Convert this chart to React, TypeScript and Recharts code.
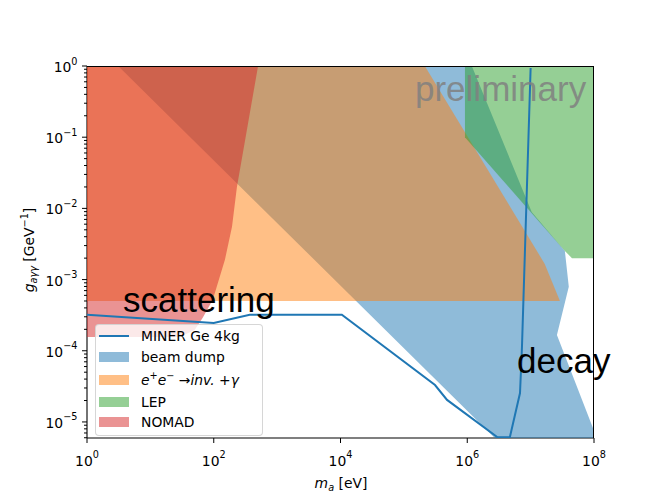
import React from 'react'
import { ScatterChart, Scatter, XAxis, YAxis } from 'recharts'

const FONT = '"DejaVu Sans", sans-serif'
const BIG_FONT = '"Liberation Sans", Arial, sans-serif'

const BLUE = '#1f77b4'
const ORANGE = '#ff7f0e'
const GREEN = '#2ca02c'
const RED = '#d62728'

type Pt = { x: number; y: number }

// axis ranges + ticks
const X_DOMAIN = [1, 1e8]
const Y_DOMAIN = [5.95e-6, 1]
const X_TICKS = [1, 1e2, 1e4, 1e6, 1e8]
const Y_MAJOR = [1e-5, 1e-4, 1e-3, 1e-2, 1e-1, 1]
const Y_MINOR = [6e-6, 7e-6, 8e-6, 9e-6].concat(
  Y_MAJOR.slice(0, -1).flatMap(d => [2, 3, 4, 5, 6, 7, 8, 9].map(m => m * d))
)
const Y_TICKS = [...Y_MINOR, ...Y_MAJOR].sort((a, b) => a - b)

// excluded regions (polygon outlines in m_a [eV], g [GeV^-1])
const BEAM_DUMP: Pt[] = [
  { x: 3.1, y: 1 },
  { x: 1.18e6, y: 1 },
  { x: 1.04e7, y: 8.9e-3 },
  { x: 3.47e7, y: 2.52e-3 },
  { x: 4.0e7, y: 7.9e-4 },
  { x: 2.6e7, y: 1.67e-4 },
  { x: 1e8, y: 7.5e-6 },
  { x: 1e8, y: 5.95e-6 },
  { x: 2.72e6, y: 5.95e-6 },
]

const EE_INV: Pt[] = [
  { x: 1, y: 1 },
  { x: 2.14e5, y: 1 },
  { x: 1.67e7, y: 1.66e-3 },
  { x: 2.9e7, y: 5e-4 },
  { x: 1, y: 5e-4 },
]

const LEP: Pt[] = [
  { x: 9.2e5, y: 1 },
  { x: 1e8, y: 1 },
  { x: 1e8, y: 2.0e-3 },
  { x: 4.5e7, y: 2.0e-3 },
  { x: 3.47e7, y: 2.52e-3 },
  { x: 9.2e5, y: 0.1 },
]

const NOMAD: Pt[] = [
  { x: 1, y: 1 },
  { x: 500, y: 1 },
  { x: 232, y: 0.02 },
  { x: 194, y: 5.5e-3 },
  { x: 150, y: 1.9e-3 },
  { x: 104, y: 6.5e-4 },
  { x: 94, y: 5e-4 },
  { x: 67, y: 2.9e-4 },
  { x: 50, y: 1.96e-4 },
  { x: 29, y: 1.56e-4 },
  { x: 1, y: 1.56e-4 },
]

// projected sensitivity
const MINER: Pt[] = [
  { x: 1, y: 3.2e-4 },
  { x: 100, y: 2.46e-4 },
  { x: 370, y: 3.2e-4 },
  { x: 1.05e4, y: 3.2e-4 },
  { x: 3.1e5, y: 3.3e-5 },
  { x: 4.8e5, y: 2.04e-5 },
  { x: 3.0e6, y: 6.1e-6 },
  { x: 4.7e6, y: 6.1e-6 },
  { x: 6.8e6, y: 2.55e-5 },
  { x: 7.3e6, y: 1.13e-4 },
  { x: 1.0e7, y: 0.94 },
]

const FILLS = [
  { name: 'beam dump', data: BEAM_DUMP, color: BLUE },
  { name: 'ee', data: EE_INV, color: ORANGE },
  { name: 'LEP', data: LEP, color: GREEN },
  { name: 'NOMAD', data: NOMAD, color: RED },
]

const LEGEND_ROWS = [335.5, 357, 379.5, 401.5, 422]

const NoDot = () => <g />

const polygonLine = (color: string) => (props: any) => (
  <polygon
    points={(props.points || []).map((p: any) => `${p.x},${p.y}`).join(' ')}
    fill={color}
    fillOpacity={0.5}
    stroke="none"
  />
)

const expText = (v: number) => {
  const e = Math.round(Math.log10(v))
  return e < 0 ? `\u2212${-e}` : String(e)
}

function XTick({ x, y, payload }: any) {
  return (
    <text x={x} y={y + 23} textAnchor="middle" fontFamily={FONT} fontSize={13.9} fill="#000">
      <tspan>10</tspan>
      <tspan dy={-8} fontSize={9.7}>{expText(payload.value)}</tspan>
    </text>
  )
}

function YTick({ x, y, payload }: any) {
  const axisX = x + 9
  const major = Y_MAJOR.includes(payload.value)
  return (
    <g>
      <line x1={axisX} x2={axisX - (major ? 5 : 3)} y1={y} y2={y} stroke="#000" strokeWidth={1} />
      {major && (
        <text x={axisX - 9.5} y={y + 6} textAnchor="end" fontFamily={FONT} fontSize={13.9} fill="#000">
          <tspan>10</tspan>
          <tspan dy={-7.5} fontSize={9.7}>{expText(payload.value)}</tspan>
        </text>
      )}
    </g>
  )
}

function LegendBox() {
  const sup = (s: string) => <span style={{ fontSize: 9.7, position: 'relative', top: -6 }}>{s}</span>
  const labels = [
    'MINER Ge 4kg',
    'beam dump',
    <span><i>e</i>{sup('+')}<i>e</i>{sup('\u2212')} {'\u2192'}<i>inv.</i> +<i>{'\u03b3'}</i></span>,
    'LEP',
    'NOMAD',
  ]
  const colors = [BLUE, BLUE, ORANGE, GREEN, RED]
  return (
    <div style={{
      position: 'absolute', left: 95, top: 324, width: 168, height: 112, boxSizing: 'border-box',
      background: 'rgba(255,255,255,0.8)', border: '1px solid rgba(204,204,204,0.8)', borderRadius: 4,
      fontFamily: FONT, fontSize: 13.9, color: '#000',
    }}>
      {LEGEND_ROWS.map((c, i) => (
        <React.Fragment key={i}>
          {i === 0
            ? <div style={{ position: 'absolute', left: 3, top: c - 325 - 1, width: 30, height: 2, background: BLUE }} />
            : <div style={{ position: 'absolute', left: 3, top: c - 325 - 5, width: 30, height: 10, background: colors[i], opacity: 0.5 }} />}
          <div style={{ position: 'absolute', left: 45, top: c - 325 - 9, height: 18, lineHeight: '18px', whiteSpace: 'nowrap' }}>
            {labels[i]}
          </div>
        </React.Fragment>
      ))}
    </div>
  )
}

export default function App() {
  return (
    <div style={{ position: 'absolute', left: 0, top: 0, width: 655, height: 495, background: '#fff' }}>
      <ScatterChart width={655} height={495} margin={{ top: 66, right: 61, bottom: 0, left: 0 }}>
        <XAxis type="number" dataKey="x" scale="log" domain={X_DOMAIN} allowDataOverflow ticks={X_TICKS}
          interval={0} height={57} tickSize={5} tickMargin={0} tick={<XTick />}
          axisLine={{ stroke: '#000', strokeWidth: 1.1 }} tickLine={{ stroke: '#000', strokeWidth: 1 }} />
        <YAxis type="number" dataKey="y" scale="log" domain={Y_DOMAIN} allowDataOverflow ticks={Y_TICKS}
          interval={0} width={87} tickSize={5} tickMargin={4} tick={<YTick />} tickLine={false}
          axisLine={{ stroke: '#000', strokeWidth: 1.1 }} />
        {FILLS.map(f => (
          <Scatter key={f.name} data={f.data} fill={f.color} line={polygonLine(f.color)} lineType="joint"
            shape={NoDot} isAnimationActive={false} />
        ))}
        <Scatter data={MINER} fill={BLUE} line={{ stroke: BLUE, strokeWidth: 2 }} lineType="joint"
          shape={NoDot} isAnimationActive={false} />
      </ScatterChart>

      {/* top / right spines */}
      <div style={{ position: 'absolute', left: 87, top: 66, width: 507, height: 372, boxSizing: 'border-box',
        borderTop: '1px solid #000', borderRight: '1px solid #000', pointerEvents: 'none' }} />

      <svg width={655} height={495} style={{ position: 'absolute', left: 0, top: 0, pointerEvents: 'none' }}>
        <text x={415} y={101} fontFamily={BIG_FONT} fontSize={35} fill="#808080" fillOpacity={0.85}>preliminary</text>
        <text x={123} y={311.5} fontFamily={BIG_FONT} fontSize={35} fill="#000">scattering</text>
        <text x={517} y={373} fontFamily={BIG_FONT} fontSize={35} fill="#000">decay</text>
        <text x={341} y={488} textAnchor="middle" fontFamily={FONT} fontSize={13.9} fill="#000">
          <tspan fontStyle="italic">m</tspan>
          <tspan fontStyle="italic" fontSize={9.7} dy={3}>a</tspan>
          <tspan dy={-3}> [eV]</tspan>
        </text>
        <text transform="translate(33.5,250) rotate(-90)" textAnchor="middle" fontFamily={FONT} fontSize={13.9} fill="#000">
          <tspan fontStyle="italic">g</tspan>
          <tspan fontStyle="italic" fontSize={9.7} dy={3}>a{'\u03b3\u03b3'}</tspan>
          <tspan dy={-3}> [GeV</tspan>
          <tspan fontSize={9.7} dy={-6}>{'\u22121'}</tspan>
          <tspan dy={6}>]</tspan>
        </text>
      </svg>

      <LegendBox />
    </div>
  )
}
